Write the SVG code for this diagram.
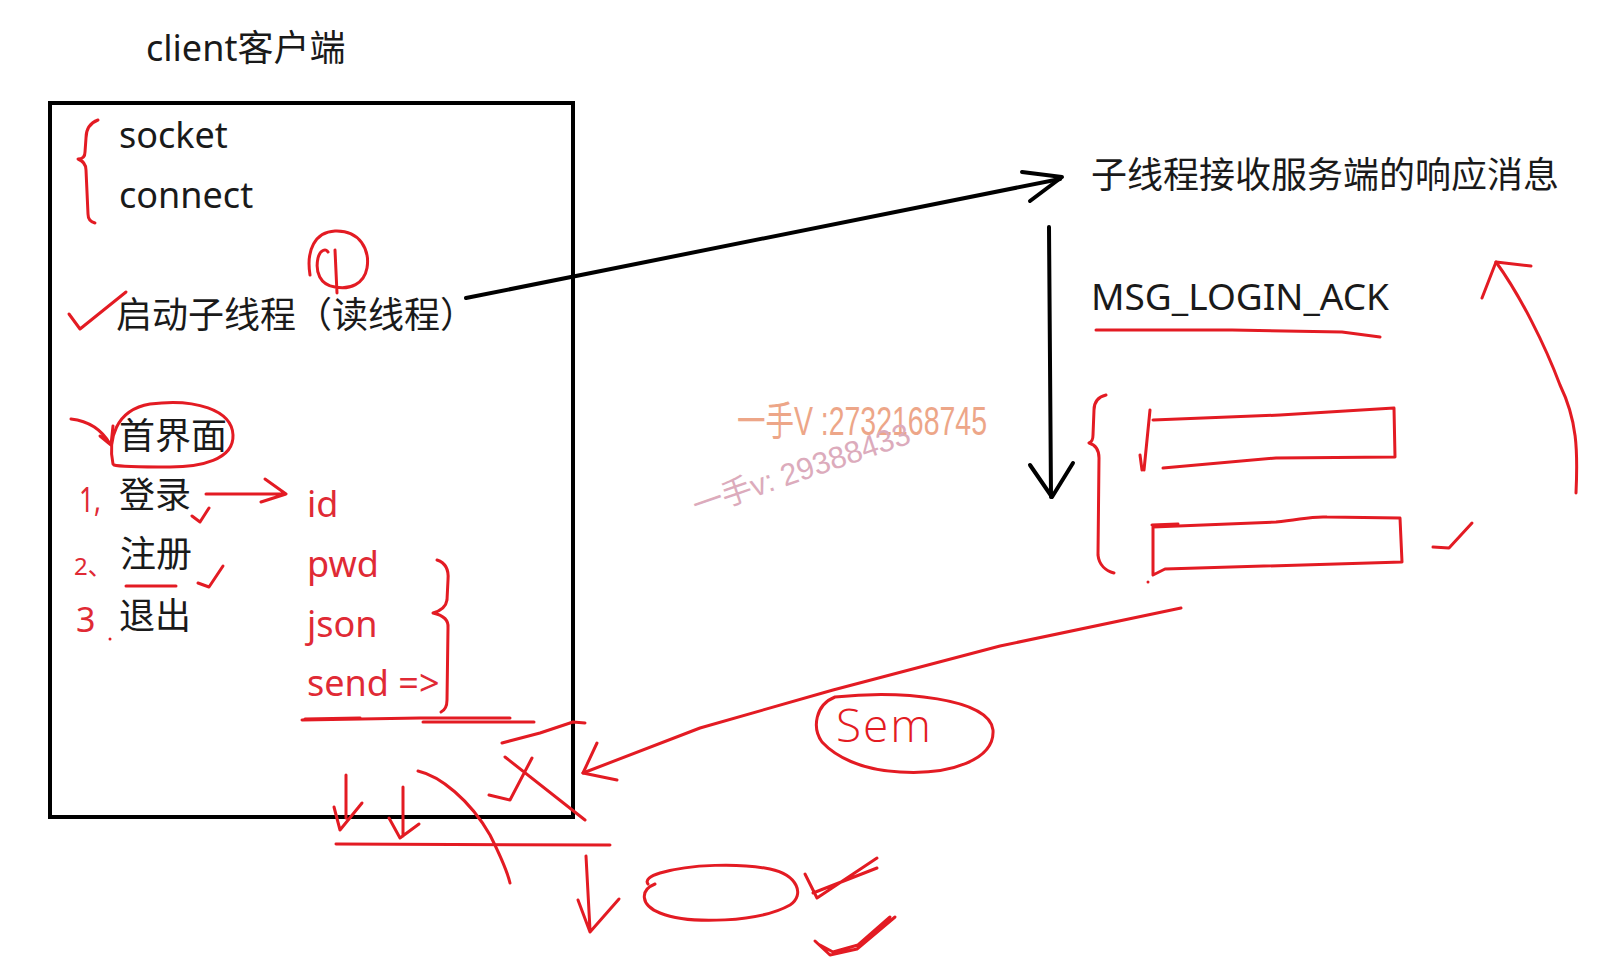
<svg xmlns="http://www.w3.org/2000/svg" width="1617" height="980" viewBox="0 0 1617 980">
<style>
.t{font-family:"Noto Sans","Noto Sans CJK SC",sans-serif;font-size:36px;fill:#1a1a1a}
.r{font-family:"Noto Sans","Noto Sans CJK SC",sans-serif;font-size:36px;fill:#e02a35}
.k{fill:none;stroke:#000;stroke-width:4;stroke-linecap:round;stroke-linejoin:round}
.p{fill:none;stroke:#e31b23;stroke-width:3;stroke-linecap:round;stroke-linejoin:round}
</style>
<rect width="1617" height="980" fill="#fff"/>
<g id="title"><text class="t" x="146" y="61">client客户端</text></g>
<g id="client-box">
<rect x="50" y="103" width="523" height="714" fill="none" stroke="#000" stroke-width="4"/>
<text class="t" x="119" y="148">socket</text>
<text class="t" x="119" y="208">connect</text>
<text class="t" x="116" y="328">启动子线程（读线程）</text>
<text class="t" x="119" y="449">首界面</text>
<text class="t" x="119" y="508">登录</text>
<text class="t" x="120" y="567">注册</text>
<text class="t" x="119" y="629">退出</text>
</g>
<g id="login-fields">
<text class="r" x="307" y="517">id</text>
<text class="r" x="307" y="577">pwd</text>
<text class="r" x="307" y="637">json</text>
<text class="r" x="307" y="696">send =&gt;</text>
</g>
<g id="menu-numbers">
<text class="r" x="79" y="512" style="font-size:34px" textLength="22" lengthAdjust="spacingAndGlyphs">1,</text>
<text class="r" x="74" y="575" style="font-size:24px">2、</text>
<text class="r" x="76" y="632" style="font-size:34px">3</text>
<circle cx="110" cy="639" r="1.5" fill="#e31b23"/>
</g>
<g id="reader-thread">
<text class="t" x="1091" y="188">子线程接收服务端的响应消息</text>
<text class="t" x="1091" y="310" style="font-size:37px">MSG_LOGIN_ACK</text>
</g>
<g id="watermark" opacity="0.9">
<text x="737" y="435" font-family="'Liberation Sans','Noto Sans CJK SC',sans-serif" font-size="40" fill="#ec9d7c" textLength="250" lengthAdjust="spacingAndGlyphs">一手V :2732168745</text>
<text x="697" y="517" transform="rotate(-19 697 517)" font-family="'Liberation Sans','Noto Sans CJK SC',sans-serif" font-size="31" fill="#d9a3b5" textLength="228" lengthAdjust="spacingAndGlyphs">一手v: 29388433</text>
</g>
<g id="sem-node">
<path class="p" d="M835 697 C900 690,990 698,993 730 C995 760,950 775,900 772 C860 770,835 756,822 742 C812 728,815 705,835 697"/>
<text x="836" y="742" font-family="'Open Sans','Liberation Sans',sans-serif" font-weight="300" font-size="46" letter-spacing="2" fill="#e31b23">Sem</text>
</g>
<g id="queue">
<path class="p" d="M1153 420 L1280 415 L1394 408 L1395 457 L1276 458 L1163 468"/>
<path class="p" d="M1150 410 L1144 470 M1140 455 L1142 470"/>
<path class="p" d="M1153 527 L1276 522 C1300 520,1310 516,1327 517 L1400 518 L1402 562 L1165 569 L1153 575 L1153 527"/>
<path class="p" d="M1152 525 L1178 524" stroke-width="6"/>
<path class="p" d="M1106 395 C1098 397,1094 402,1094 410 L1093 435 C1093 440,1092 442,1089 443 C1096 445,1099 450,1099 458 L1098 555 C1099 565,1106 571,1114 573"/>
<circle cx="1148" cy="582" r="1.5" fill="#e31b23"/>
</g>
<g id="connectors">
<path class="k" d="M466 298 L1060 179"/>
<path class="k" d="M1022 172 L1062 177 L1030 201"/>
<path class="k" d="M1049 227 L1051 497"/>
<path class="k" d="M1030 465 L1052 497 L1073 463"/>
<path class="p" d="M1181 608 L1000 646 L833 690 L700 728 L583 773"/>
<path class="p" d="M597 743 L583 773 L617 780"/>
<path class="p" d="M1576 493 C1578 450,1577 420,1560 385 C1545 345,1520 295,1496 262"/>
<path class="p" d="M1482 298 L1496 262 L1531 266"/>
<path class="p" d="M206 494 L285 494 M265 479 L286 494 L261 502"/>
<path class="p" d="M71 419 C88 421,102 430,110 444 M100 436 L111 445 L113 426"/>
</g>
<g id="annotations">
<path class="p" d="M1096 330 L1232 330 L1342 332 L1380 337"/>
<path class="p" d="M1433 547 L1449 548 L1472 523"/>
<path class="p" d="M98 120 C90 123,86 128,86 138 L85 152 C85 157,82 159,78 159 C83 161,86 164,86 170 L88 214 C88 219,91 222,95 223"/>
<path class="p" d="M310 275 C306 250,315 232,335 231 C360 230,370 250,367 268 C364 284,350 290,335 287 C320 285,315 272,318 258 C320 250,326 248,328 252 M335 250 L337 293"/>
<path class="p" d="M69 314 L80 329 L126 292"/>
<path class="p" d="M113 464 C108 440,115 410,150 404 C195 398,232 410,233 435 C234 460,200 467,170 467 C140 467,120 467,114 465"/>
<path class="p" d="M192 516 L200 522 L209 508"/>
<path class="p" d="M198 583 L209 587 L223 566"/>
<path class="p" d="M126 586 L176 586"/>
<path class="p" d="M437 560 C446 563,449 570,448 580 L447 600 C446 607,440 611,433 613 C442 615,449 619,448 628 L447 700 C447 707,445 710,441 712"/>
<path class="p" d="M302 720 L420 718 L510 718 M423 722 L534 722"/>
<path class="p" d="M305 719 L360 718" stroke-width="6"/>
<path class="p" d="M502 743 L540 733 L573 722 L585 723"/>
<path class="p" d="M505 757 L585 820 M532 758 L510 800 L489 795"/>
<path class="p" d="M418 771 C440 776,470 800,490 835 C500 855,507 870,510 883"/>
<path class="p" d="M346 775 L346 818 M334 807 L340 830 L362 803"/>
<path class="p" d="M403 787 L403 836 M389 818 L400 838 L419 824"/>
<path class="p" d="M336 844 L610 845"/>
<path class="p" d="M586 856 L590 930 M578 900 L590 932 L619 899"/>
<path class="p" d="M655 884 C640 890,640 905,660 913 C690 925,760 922,790 905 C805 895,798 875,770 869 C740 863,690 864,660 873 C650 876,645 880,648 884"/>
<path class="p" d="M805 874 L817 898 L877 858 M813 893 L877 868"/>
<path class="p" d="M815 941 L830 955 L857 949 L895 917 M820 945 L833 952 L858 945 L890 917"/>
</g>
</svg>
